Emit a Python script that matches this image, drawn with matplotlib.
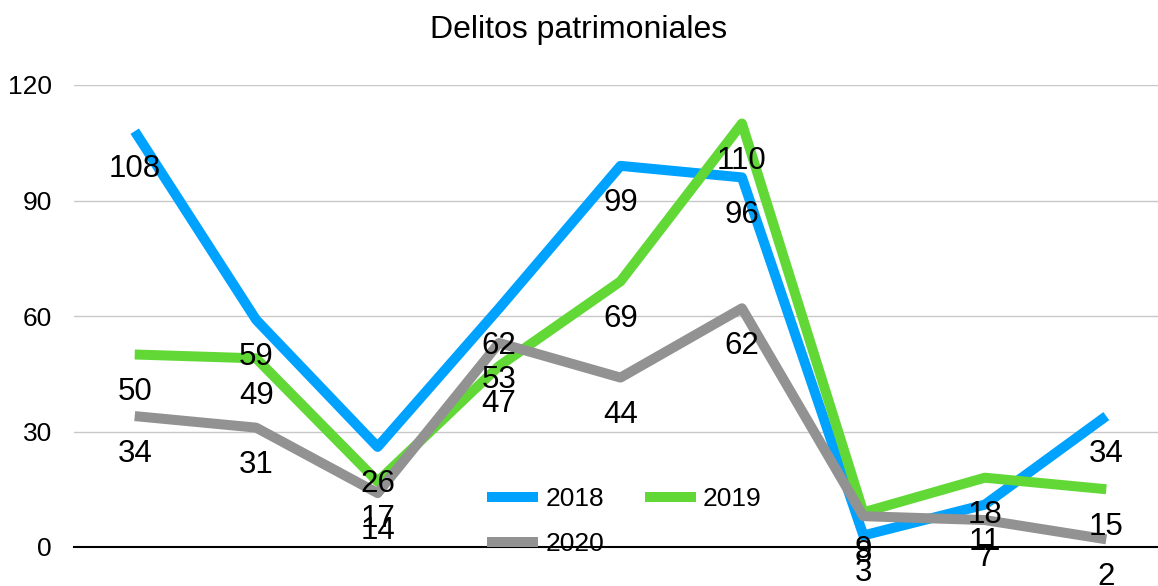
import matplotlib.pyplot as plt

plt.rcParams['font.family'] = ['Liberation Sans', 'DejaVu Sans']

# Chart data
months = list(range(9))
s2018 = [108, 59, 26, 62, 99, 96, 3, 11, 34]
s2019 = [50, 49, 17, 47, 69, 110, 9, 18, 15]
s2020 = [34, 31, 14, 53, 44, 62, 8, 7, 2]
yticks = [0, 30, 60, 90, 120]

series = [("2018", s2018, "#00A2FF"), ("2019", s2019, "#61D836"), ("2020", s2020, "#929292")]

fig = plt.figure(figsize=(11.58, 5.86), dpi=100)
ax = fig.add_axes([74 / 1158, 39 / 586, (1167 - 74) / 1158, (547 - 85) / 586])

lines = {}
for name, vals, color in series:
    lines[name], = ax.plot(months, vals, color=color, linewidth=7.2, label=name,
                           solid_capstyle="butt")

# Data labels below each point
for name, vals, color in series:
    for x, v in zip(months, vals):
        ax.annotate(str(v), (x, v), xytext=(0, -27), textcoords="offset points",
                    ha="center", va="center", fontsize=22.5, color="black",
                    annotation_clip=False)

ax.set_xlim(-0.5, 8.5)
ax.set_ylim(0, 120)
ax.set_yticks(yticks)
ax.set_xticks([])
ax.tick_params(axis="y", length=0, labelsize=19, pad=16)
ax.grid(axis="y", color="#c8c8c8", linewidth=1)
ax.set_axisbelow(True)
for side in ["left", "right", "top"]:
    ax.spines[side].set_visible(False)
ax.spines["bottom"].set_color("black")
ax.spines["bottom"].set_linewidth(1.5)
ax.spines["bottom"].set_zorder(5)

fig.text(579 / 1158, 1 - 30 / 586, "Delitos patrimoniales", ha="center", va="center", fontsize=23)

# row-wise legend order: 2018 2019 / 2020
order = ["2018", "2020", "2019"]
fig.legend([lines[k] for k in order], order, loc="upper left",
           bbox_to_anchor=(474 / 1158, 1 - 474 / 586), ncol=2,
           frameon=False, fontsize=19, borderpad=0, handlelength=1.93,
           handletextpad=0.27, columnspacing=1.55, labelspacing=0.8)

plt.savefig("out.png", dpi=100)
